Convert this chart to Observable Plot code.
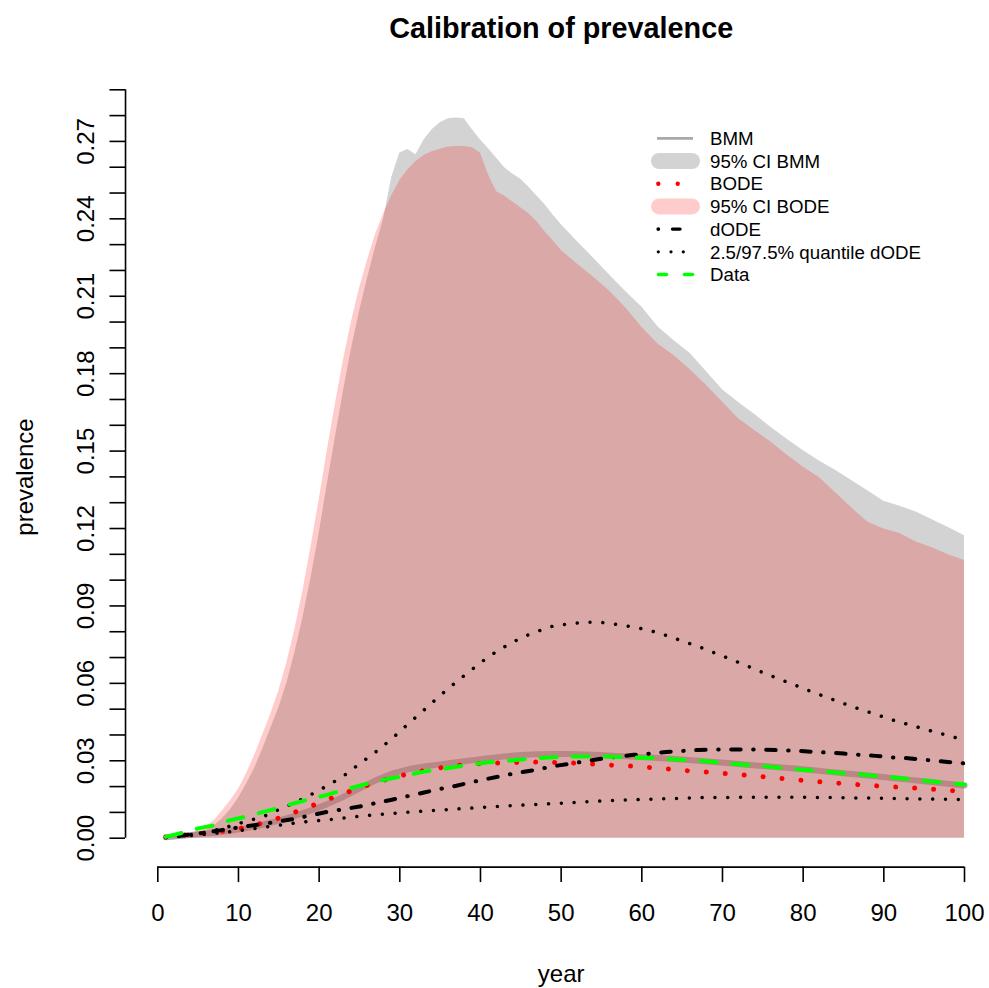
<!DOCTYPE html>
<html>
<head>
<meta charset="utf-8">
<script src="https://cdn.jsdelivr.net/npm/d3@7"></script>
<script src="https://cdn.jsdelivr.net/npm/@observablehq/plot@0.6"></script>
<style>
  html, body { margin: 0; padding: 0; background: #fff; }
  #chart svg { display: block; }
</style>
</head>
<body>
<div id="chart"></div>
<script>
// Simulation years for the model trajectories
const lineYears = [1,3,5,7,9,11,13,15,17,19,21,23,25,27,29,31,33,35,37,39,41,43,45,47,49,
  51,53,55,57,59,61,63,65,67,69,71,73,75,77,79,81,83,85,87,89,91,93,95,97,99,100];

// BMM posterior mean prevalence
const bmm = [0.0004,0.0009,0.0015,0.0021,0.0029,0.0039,0.0052,0.0068,0.0087,0.0108,
  0.0132,0.0160,0.0192,0.0224,0.0250,0.0267,0.0278,0.0286,0.0294,0.0302,
  0.0310,0.0317,0.0322,0.0325,0.0326,0.0326,0.0324,0.0322,0.0319,0.0316,
  0.0313,0.0309,0.0305,0.0300,0.0295,0.0290,0.0285,0.0280,0.0275,0.0270,
  0.0264,0.0258,0.0252,0.0246,0.0240,0.0233,0.0227,0.0221,0.0214,0.0207,0.0204];

// BODE posterior mean prevalence
const bode = [0.0004,0.0011,0.0017,0.0023,0.0031,0.0042,0.0059,0.0078,0.0101,0.0124,
  0.0149,0.0172,0.0195,0.0216,0.0233,0.0249,0.0262,0.0273,0.0281,0.0287,
  0.0290,0.0292,0.0294,0.0295,0.0294,0.0292,0.0289,0.0285,0.0282,0.0279,
  0.0274,0.0269,0.0263,0.0259,0.0254,0.0249,0.0244,0.0238,0.0232,0.0227,
  0.0221,0.0216,0.0212,0.0207,0.0203,0.0199,0.0196,0.0192,0.0188,0.0183,0.0181];

// Deterministic ODE prevalence
const dode = [0.0004,0.0010,0.0018,0.0027,0.0037,0.0046,0.0055,0.0065,0.0075,0.0089,
  0.0102,0.0112,0.0123,0.0136,0.0149,0.0163,0.0177,0.0191,0.0203,0.0218,
  0.0231,0.0244,0.0255,0.0266,0.0279,0.0288,0.0298,0.0308,0.0316,0.0323,
  0.0328,0.0334,0.0338,0.0342,0.0344,0.0344,0.0344,0.0343,0.0341,0.0339,
  0.0335,0.0332,0.0328,0.0323,0.0319,0.0313,0.0310,0.0304,0.0298,0.0292,0.0290];

// dODE 97.5% quantile
const dodeHi = [0.0004,0.0010,0.0018,0.0030,0.0047,0.0066,0.0082,0.0111,0.0137,0.0169,
  0.0203,0.0240,0.0288,0.0334,0.0385,0.0442,0.0497,0.0553,0.0606,0.0655,
  0.0704,0.0742,0.0776,0.0801,0.0822,0.0831,0.0837,0.0836,0.0828,0.0818,
  0.0805,0.0786,0.0764,0.0743,0.0718,0.0694,0.0668,0.0642,0.0617,0.0593,
  0.0568,0.0545,0.0522,0.0500,0.0480,0.0459,0.0441,0.0423,0.0406,0.0389,0.0381];

// dODE 2.5% quantile
const dodeLo = [0.0003,0.0008,0.0013,0.0019,0.0025,0.0033,0.0042,0.0050,0.0059,0.0066,
  0.0071,0.0078,0.0085,0.0091,0.0096,0.0101,0.0105,0.0109,0.0113,0.0117,
  0.0121,0.0125,0.0128,0.0131,0.0134,0.0137,0.0141,0.0144,0.0147,0.0149,
  0.0151,0.0153,0.0155,0.0157,0.0158,0.0158,0.0159,0.0159,0.0159,0.0159,
  0.0158,0.0158,0.0157,0.0156,0.0155,0.0154,0.0153,0.0152,0.0151,0.0150,0.0150];

// Observed prevalence
const observed = [0.0005,0.0021,0.0038,0.0050,0.0070,0.0084,0.0101,0.0117,0.0136,0.0153,
  0.0168,0.0187,0.0203,0.0219,0.0232,0.0245,0.0258,0.0267,0.0277,0.0286,
  0.0294,0.0299,0.0305,0.0310,0.0314,0.0316,0.0317,0.0317,0.0315,0.0313,
  0.0311,0.0307,0.0304,0.0301,0.0295,0.0289,0.0284,0.0279,0.0273,0.0268,
  0.0262,0.0258,0.0252,0.0248,0.0241,0.0236,0.0229,0.0223,0.0217,0.0211,0.0208];

// Years for the credible-interval bands
const ciYears = [1,2,3,4,5,6,7,8,9,10,11,12,13,14,15,16,17,18,19,20,21,22,23,24,25,
  26,27,28,29,30,31,32,33,34,35,36,37,38,39,40,41,42,43,44,45,46,47,48,49,50,
  52,54,56,58,60,62,64,66,68,70,72,74,76,78,80,82,84,86,88,90,92,94,96,98,100];

// Upper limit of the 95% CI, BMM
const ciBmmHi = [0.0002,0.0004,0.0007,0.0011,0.0018,0.0030,0.0048,0.0075,0.011,0.0155,
  0.021,0.027,0.0345,0.0425,0.0505,0.060,0.072,0.0855,0.101,0.118,
  0.137,0.155,0.173,0.1895,0.204,0.217,0.229,0.240,0.256,0.2655,
  0.2669,0.2648,0.2705,0.2745,0.2772,0.2788,0.2791,0.2788,0.2745,0.2705,
  0.2672,0.2635,0.2598,0.2574,0.2553,0.2522,0.2488,0.2455,0.2415,0.2378,
  0.2312,0.2248,0.2182,0.2118,0.2058,0.1982,0.1928,0.1878,0.1808,0.1738,
  0.1688,0.1642,0.1592,0.1546,0.1502,0.1462,0.1426,0.1386,0.1346,0.1306,
  0.1286,0.1264,0.1234,0.1204,0.1172];

// Upper limit of the 95% CI, BODE
const ciBodeHi = [0.0003,0.0006,0.001,0.0017,0.0028,0.0045,0.007,0.0105,0.0145,0.019,
  0.025,0.032,0.040,0.048,0.057,0.068,0.081,0.096,0.113,0.131,
  0.150,0.168,0.185,0.200,0.213,0.224,0.234,0.242,0.249,0.2549,
  0.259,0.2622,0.2645,0.266,0.267,0.2678,0.268,0.268,0.2675,0.2655,
  0.257,0.2505,0.2488,0.2465,0.2443,0.242,0.239,0.235,0.2315,0.2278,
  0.2225,0.2175,0.212,0.2055,0.198,0.1915,0.187,0.1815,0.1755,0.169,
  0.1625,0.158,0.1535,0.1485,0.1438,0.1398,0.134,0.128,0.1225,0.1198,
  0.1181,0.1148,0.1125,0.1098,0.1076];

// Axis ticks
const xTicks = [0,10,20,30,40,50,60,70,80,90,100];
const yTicks = d3.range(0, 30).map(i => i / 100);
const yTickLabels = [0,0.03,0.06,0.09,0.12,0.15,0.18,0.21,0.24,0.27];

const legendLabels = ["BMM","95% CI BMM","BODE","95% CI BODE","dODE","2.5/97.5% quantile dODE","Data"];

const lines = lineYears.map((year, i) => ({
  year, bmm: bmm[i], bode: bode[i], dode: dode[i],
  dodeHi: dodeHi[i], dodeLo: dodeLo[i], observed: observed[i]
}));
const bands = ciYears.map((year, i) => ({year, bmm: ciBmmHi[i], bode: ciBodeHi[i]}));

// base-R style axes: 4% padding around xlim = c(0, 100), ylim = c(0, 0.28)
const xPad = 4, yPad = 0.0112;
const font = "'Liberation Sans', Arial, Helvetica, sans-serif";
const W = 989, H = 988;

const chart = Plot.plot({
  width: W,
  height: H,
  marginLeft: 125,
  marginRight: 0,
  marginTop: 86.4,
  marginBottom: 121.4,
  style: {fontFamily: font, fontSize: "24px", background: "#fff", overflow: "visible"},
  x: {domain: [0, 100], range: [157.3, 964]},
  y: {domain: [0, 0.29], range: [837.7, 89.3]},
  marks: [
    Plot.areaY(bands, {x: "year", y: "bmm", fill: "#d3d3d3"}),
    Plot.line(lines, {x: "year", y: "bmm", stroke: "#a9a9a9", strokeWidth: 6,
      strokeLinecap: "round", strokeLinejoin: "round"}),
    Plot.areaY(bands, {x: "year", y: "bode", fill: "red", fillOpacity: 0.2}),
    Plot.line(lines, {x: "year", y: "bode", stroke: "red", strokeWidth: 5,
      strokeDasharray: "0.01,18.99", strokeLinecap: "round"}),
    Plot.line(lines, {x: "year", y: "dode", stroke: "black", strokeWidth: 4,
      strokeDasharray: "0.5,12.5,9.5,12.5", strokeLinecap: "round"}),
    Plot.line(lines, {x: "year", y: "dodeHi", stroke: "black", strokeWidth: 3.5,
      strokeDasharray: "0.01,12.8", strokeLinecap: "round"}),
    Plot.line(lines, {x: "year", y: "dodeLo", stroke: "black", strokeWidth: 3.5,
      strokeDasharray: "0.01,12.8", strokeLinecap: "round"}),
    Plot.line(lines, {x: "year", y: "observed", stroke: "#00ff00", strokeWidth: 4,
      strokeDasharray: "16,16", strokeLinecap: "round"}),

    // axes
    Plot.ruleY([-yPad], {x1: 0, x2: 100, stroke: "#000", strokeWidth: 1.6}),
    Plot.ruleX([-xPad], {y1: 0, y2: 0.29, stroke: "#000", strokeWidth: 1.6}),
    Plot.axisX({ticks: xTicks, tickSize: 15.5, tickPadding: 21.4, label: null,
      strokeWidth: 1.6, fontSize: 24, tickFormat: d => String(d)}),
    Plot.axisY({ticks: yTicks, tickSize: 15.5, label: null, strokeWidth: 1.6,
      tickFormat: () => ""}),
    Plot.text(yTickLabels, {y: d => d, text: d => d.toFixed(2), frameAnchor: "left",
      dx: -31.5, rotate: -90, textAnchor: "middle", lineAnchor: "bottom", fontSize: 24}),

    // titles
    Plot.text(["prevalence"], {text: d => d, frameAnchor: "left", dx: -93,
      rotate: -90, textAnchor: "middle", lineAnchor: "bottom", fontSize: 24}),
    Plot.text(["year"], {text: d => d, frameAnchor: "bottom", dx: 3.7, dy: 114.5,
      lineAnchor: "bottom", fontSize: 24}),
    Plot.text(["Calibration of prevalence"], {text: d => d, frameAnchor: "top",
      dx: 3.7, dy: -49.4, lineAnchor: "bottom", fontSize: 28.8, fontWeight: "bold"})
  ]
});

document.getElementById("chart").appendChild(chart);

// legend in the upper right of the panel
const svg = d3.select(chart);
const lg = svg.append("g")
  .attr("font-family", font)
  .attr("font-size", 18.7)
  .attr("text-anchor", "start");
const rowY = i => 138.3 + i * 22.7;
const sw = lg.append("g");

// BMM
sw.append("line").attr("x1", 657).attr("x2", 693).attr("y1", rowY(0)).attr("y2", rowY(0))
  .attr("stroke", "#a9a9a9").attr("stroke-width", 2.7);
// 95% CI BMM
sw.append("line").attr("x1", 659).attr("x2", 692).attr("y1", rowY(1)).attr("y2", rowY(1))
  .attr("stroke", "#d3d3d3").attr("stroke-width", 16).attr("stroke-linecap", "round");
// BODE
[658.3, 677.7].forEach(cx => sw.append("circle").attr("cx", cx).attr("cy", rowY(2))
  .attr("r", 2.2).attr("fill", "red"));
// 95% CI BODE
sw.append("line").attr("x1", 659).attr("x2", 692).attr("y1", rowY(3)).attr("y2", rowY(3))
  .attr("stroke", "#ffcccc").attr("stroke-width", 16).attr("stroke-linecap", "round");
// dODE
sw.append("circle").attr("cx", 658.3).attr("cy", rowY(4)).attr("r", 1.9).attr("fill", "black");
sw.append("line").attr("x1", 672.5).attr("x2", 680).attr("y1", rowY(4)).attr("y2", rowY(4))
  .attr("stroke", "black").attr("stroke-width", 3.4).attr("stroke-linecap", "round");
// quantiles
[658.3, 671, 683.3].forEach(cx => sw.append("circle").attr("cx", cx).attr("cy", rowY(5))
  .attr("r", 1.6).attr("fill", "black"));
// Data
[[658.5, 666.5], [684.5, 692.5]].forEach(([a, b]) => sw.append("line")
  .attr("x1", a).attr("x2", b).attr("y1", rowY(6)).attr("y2", rowY(6))
  .attr("stroke", "#00ff00").attr("stroke-width", 3.6).attr("stroke-linecap", "round"));

lg.selectAll("text.lab").data(legendLabels).join("text")
  .attr("class", "lab")
  .attr("x", 710)
  .attr("y", (d, i) => rowY(i) + 6.7)
  .attr("text-anchor", "start")
  .attr("fill", "black")
  .text(d => d);
</script>
</body>
</html>
